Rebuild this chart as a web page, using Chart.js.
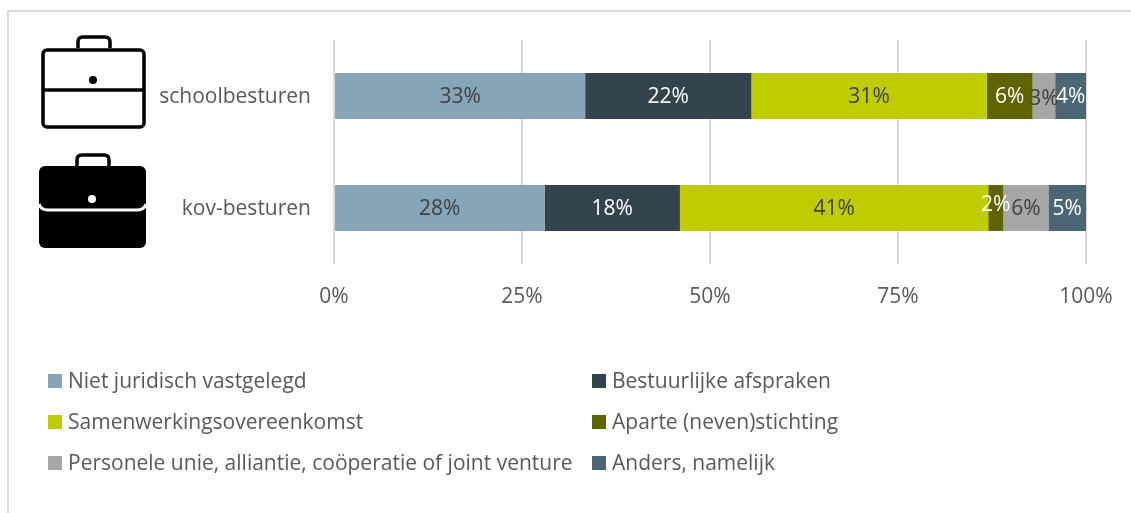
<!DOCTYPE html>
<html>
<head>
<meta charset="utf-8">
<script src="https://cdn.jsdelivr.net/npm/chart.js@4"></script>
<style>
  html, body { margin:0; padding:0; background:#fff; }
  #wrap { position:relative; width:1131px; height:513px; overflow:hidden; font-family:"Open Sans",sans-serif; }
  #frame { position:absolute; left:7px; top:10px; width:1200px; height:600px; border:2px solid #d9d9d9; box-sizing:border-box; }
  canvas { position:absolute; left:0; top:0; }
  svg { position:absolute; left:0; top:0; }
  .lg { position:absolute; height:20px; line-height:20px; font-size:21px; color:#595959; white-space:nowrap; }
  .lg i { position:absolute; left:0; top:3px; width:14px; height:14px; }
  .lg span { position:absolute; left:20px; top:-1px; }
</style>
</head>
<body>
<div id="wrap">
  <div id="frame"></div>
  <canvas id="chart" width="1131" height="513"></canvas>
  <svg width="146" height="513" viewBox="0 0 146 513">
    <g fill="none" stroke="#000" stroke-width="3.5">
      <path d="M78 48V42q0-5 5-5h22q5 0 5 5v6"/>
      <rect x="43" y="50" width="101" height="77" rx="4"/>
      <path d="M42 90H145"/>
    </g>
    <circle cx="93" cy="80" r="4" fill="#000"/>
    <path d="M77 167V160q0-5 5-5h22q5 0 5 5v7" fill="none" stroke="#000" stroke-width="3.5"/>
    <rect x="39" y="166" width="107" height="82" rx="6" fill="#000"/>
    <path d="M39 204q2 6 9 6H137q7 0 9-6" fill="none" stroke="#fff" stroke-width="3"/>
    <circle cx="92" cy="199" r="4" fill="#fff"/>
  </svg>
  <div id="legend"></div>
</div>
<script>
const categories = ['schoolbesturen', 'kov-besturen'];
const seriesNames = ['Niet juridisch vastgelegd', 'Bestuurlijke afspraken', 'Samenwerkingsovereenkomst', 'Aparte (neven)stichting', 'Personele unie, alliantie, coöperatie of joint venture', 'Anders, namelijk'];
const nietJuridisch = [33.4, 28];
const bestuurlijk = [22.1, 18];
const samenwerking = [31.3, 41];
const aparte = [6.1, 2];
const personele = [3, 6];
const anders = [4.1, 5];
const seriesValues = [nietJuridisch, bestuurlijk, samenwerking, aparte, personele, anders];
const colors = ['#87a5b8', '#33444f', '#bfcd00', '#5f6400', '#a6a6a6', '#4b6675'];
const labelColors = ['#404040', '#fff', '#404040', '#fff', '#404040', '#fff'];
const xTicks = [0, 25, 50, 75, 100];

// the small segments have hand moved labels in the original
const labelNudge = { '4,0': 2, '3,1': -4 };

const barLabels = {
  id: 'barLabels',
  afterDatasetsDraw(chart) {
    const { ctx } = chart;
    ctx.save();
    ctx.font = '21px "Open Sans"';
    ctx.textAlign = 'center';
    ctx.textBaseline = 'middle';
    chart.data.datasets.forEach((ds, i) => {
      chart.getDatasetMeta(i).data.forEach((bar, j) => {
        ctx.fillStyle = labelColors[i];
        const dy = labelNudge[i + ',' + j] || 0;
        ctx.fillText(Math.round(ds.data[j]) + '%', bar.x - (bar.x - bar.base) / 2, bar.y + 1 + dy);
      });
    });
    ctx.restore();
  }
};

Chart.defaults.font.family = '"Open Sans"';
new Chart(document.getElementById('chart'), {
  type: 'bar',
  plugins: [barLabels],
  data: {
    labels: categories,
    datasets: seriesNames.map((name, i) => ({ label: name, data: seriesValues[i], backgroundColor: colors[i], barPercentage: 0.41, categoryPercentage: 1 }))
  },
  options: {
    indexAxis: 'y',
    responsive: false,
    animation: false,
    layout: { padding: { top: 40, right: 45, bottom: 0, left: 0 } },
    plugins: { legend: { display: false }, tooltip: { enabled: false } },
    scales: {
      x: {
        stacked: true, min: 0, max: 100,
        afterBuildTicks(axis) { axis.ticks = xTicks.map(v => ({ value: v })); },
        afterFit(axis) { axis.height = 249; axis.paddingLeft = 0; axis.paddingRight = 0; },
        border: { display: false },
        grid: { color: '#d9d9d9', lineWidth: 2, drawTicks: false },
        ticks: { color: '#595959', font: { size: 21 }, padding: 20, maxRotation: 0, callback: v => v + '%' }
      },
      y: {
        stacked: true,
        afterFit(axis) { axis.width = 334; },
        border: { display: false },
        grid: { display: false, drawTicks: false },
        ticks: { color: '#595959', font: { size: 21 }, padding: 23, labelOffset: 1 }
      }
    }
  }
});

// two column legend
const legendSpots = [[48, 371], [592, 371], [48, 412], [592, 412], [48, 453], [592, 453]];
const legend = document.getElementById('legend');
seriesNames.forEach((name, i) => {
  const el = document.createElement('div');
  el.className = 'lg';
  el.style.left = legendSpots[i][0] + 'px';
  el.style.top = legendSpots[i][1] + 'px';
  el.innerHTML = '<i style="background:' + colors[i] + '"></i><span>' + name + '</span>';
  legend.appendChild(el);
});
</script>
</body>
</html>
